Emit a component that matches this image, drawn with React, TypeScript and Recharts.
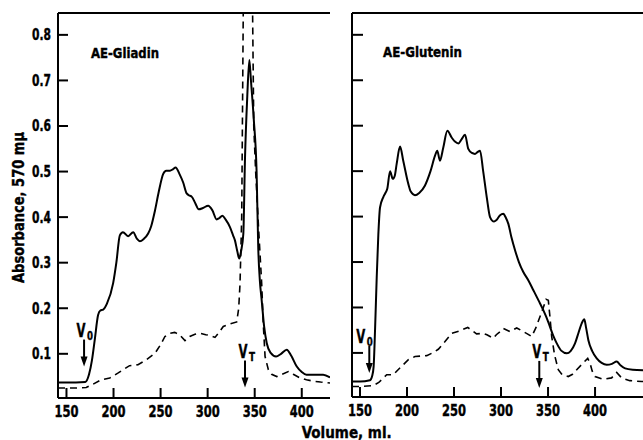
import React from 'react';
import { LineChart, Line, XAxis, YAxis, ReferenceDot } from 'recharts';

const FONT = '"Liberation Sans Narrow", "DejaVu Sans Condensed", "Liberation Sans", sans-serif';

// AE-Gliadin, solid trace (volume ml / absorbance)
const gliadinVol = [
  141, 150, 160, 170, 174, 177, 180, 183.6, 186, 189, 193, 199.6, 203, 206.7, 210, 215.5, 220.9, 225, 228, 232,
  236.8, 240, 244, 248, 252.8, 256, 260, 263, 266, 270, 274, 277.7, 281, 283, 287, 290.5, 295, 300.6, 305, 309.6,
  312.5, 315.6, 319, 323.7, 327, 329, 331.5, 333.6, 335.5, 337.9, 339.7, 342, 344.3, 346, 349, 352, 353.8, 355.5,
  357.4, 360, 362.8, 367, 372.7, 378, 384, 389, 394.7, 400, 405, 415, 422.7, 430,
];
const gliadinAbs = [
  0.037, 0.037, 0.037, 0.038, 0.055, 0.085, 0.13, 0.185, 0.195, 0.197, 0.21, 0.255, 0.3, 0.36, 0.367, 0.358, 0.367,
  0.352, 0.347, 0.352, 0.364, 0.38, 0.414, 0.455, 0.495, 0.502, 0.502, 0.505, 0.509, 0.495, 0.476, 0.452, 0.447,
  0.445, 0.43, 0.417, 0.42, 0.425, 0.415, 0.395, 0.398, 0.403, 0.395, 0.378, 0.36, 0.349, 0.325, 0.309, 0.325,
  0.363, 0.53, 0.66, 0.745, 0.7, 0.615, 0.5, 0.33, 0.26, 0.218, 0.16, 0.123, 0.102, 0.094, 0.1, 0.109, 0.095,
  0.072, 0.06, 0.054, 0.054, 0.054, 0.048,
];

// AE-Gliadin, dashed trace (peak runs off the top of the frame)
const gliadinDashVol = [
  141, 150, 160, 171, 178, 187, 196, 205, 217, 226, 235, 244, 250, 254.6, 260, 265, 270, 275.9, 281, 286.5, 291.8,
  298, 303, 307.8, 312, 316.6, 323, 330.9, 333, 334.4, 336.2, 342, 349, 351, 354, 357.4, 359, 361, 364.5, 368,
  373.4, 379, 385.7, 391, 398, 405, 412, 420, 430,
];
const gliadinDashAbs = [
  0.025, 0.025, 0.025, 0.026, 0.033, 0.043, 0.047, 0.058, 0.074, 0.076, 0.087, 0.101, 0.12, 0.138, 0.145, 0.147,
  0.142, 0.129, 0.138, 0.143, 0.145, 0.142, 0.14, 0.136, 0.147, 0.16, 0.165, 0.17, 0.2, 0.254, 0.4, 2.0, 0.6, 0.5,
  0.38, 0.255, 0.17, 0.094, 0.065, 0.055, 0.05, 0.055, 0.061, 0.055, 0.047, 0.043, 0.04, 0.038, 0.036,
];

// AE-Glutenin, solid trace
const gluteninVol = [
  141.5, 150, 160.6, 163, 164.5, 166, 167.8, 169.5, 171.3, 174.8, 177, 179, 182, 184.8, 187, 189, 192.6, 196, 201.4,
  204, 208.5, 213, 219, 225, 229.8, 232.2, 235, 238.6, 242.9, 247.5, 251, 254.6, 258, 261.7, 265.2, 269, 272.3, 275,
  277.7, 281, 285, 288.3, 292.6, 295, 299, 302.5, 305, 307.8, 311, 314.9, 319, 323.7, 329, 334.4, 340, 345, 348,
  352, 355.5, 359.3, 364, 370, 374, 378.7, 382.5, 385.8, 388.6, 390.5, 392.9, 397, 401.8, 407, 412.4, 418, 423,
  427, 432, 440, 451,
];
const gluteninAbs = [
  0.037, 0.037, 0.04, 0.05, 0.07, 0.15, 0.267, 0.36, 0.42, 0.443, 0.452, 0.461, 0.5, 0.483, 0.49, 0.516, 0.554,
  0.523, 0.472, 0.455, 0.447, 0.452, 0.468, 0.5, 0.534, 0.545, 0.523, 0.552, 0.589, 0.574, 0.565, 0.561, 0.57,
  0.58, 0.549, 0.54, 0.538, 0.542, 0.545, 0.5, 0.44, 0.399, 0.389, 0.392, 0.403, 0.406, 0.398, 0.384, 0.355, 0.326,
  0.3, 0.278, 0.26, 0.238, 0.215, 0.194, 0.18, 0.158, 0.138, 0.121, 0.105, 0.099, 0.104, 0.121, 0.145, 0.165,
  0.174, 0.155, 0.128, 0.104, 0.088, 0.078, 0.074, 0.076, 0.081, 0.073, 0.066, 0.063, 0.062,
];

// AE-Glutenin, dashed trace
const gluteninDashVol = [
  141.5, 150, 164, 170, 178.4, 185.4, 193, 201.4, 208.5, 221, 227, 233.3, 240, 247.5, 255, 264.6, 274, 281, 285,
  291.8, 295, 299, 302.5, 309.6, 316.7, 323.7, 328, 332.6, 337, 341.5, 345, 347.9, 350.3, 352, 353.9, 357, 360.9,
  365, 371.5, 376, 380.5, 386, 392.2, 394.7, 397, 400, 408.8, 417.6, 423, 428.3, 437, 449.7, 451,
];
const gluteninDashAbs = [
  0.026, 0.026, 0.028, 0.035, 0.052, 0.052, 0.068, 0.085, 0.092, 0.094, 0.1, 0.108, 0.124, 0.143, 0.148, 0.156,
  0.142, 0.143, 0.14, 0.132, 0.14, 0.147, 0.154, 0.147, 0.155, 0.147, 0.142, 0.136, 0.155, 0.18, 0.2, 0.218,
  0.216, 0.18, 0.136, 0.095, 0.063, 0.052, 0.048, 0.053, 0.063, 0.075, 0.088, 0.077, 0.06, 0.048, 0.042, 0.045,
  0.057, 0.045, 0.039, 0.037, 0.037,
];

// V0 / VT arrow tips
const gliadinMarkers = [
  { vol: 168.7, abs: 0.072, sub: '0' },
  { vol: 339.7, abs: 0.026, sub: 'T' },
];
const gluteninMarkers = [
  { vol: 159.9, abs: 0.056, sub: '0' },
  { vol: 340.7, abs: 0.023, sub: 'T' },
];
// how far the "V" label sits left of its arrow (the glutenin V0 is pushed left, clear of the curve)
const gliadinLabelShift = [7.5, 6.5];
const gluteninLabelShift = [13, 7];

const xTicks = [150, 200, 250, 300, 350, 400];
const yTicks = [0.1, 0.2, 0.3, 0.4, 0.5, 0.6, 0.7, 0.8];
const yDomain = [0.003, 0.848];

const zip = (xs: number[], ys: number[]) => xs.map((v, i) => ({ vol: v, abs: ys[i] }));

// squeezed, slightly thickened bold text, to imitate the heavy condensed typeface of the original
const Narrow = ({ x, y, len, size, anchor = 'start', children, ...rest }: any) => (
  <text
    x={x}
    y={y}
    textAnchor={anchor}
    fontFamily={FONT}
    fontWeight="bold"
    fontSize={size}
    fill="#000"
    stroke="#000"
    strokeWidth={0.4}
    textLength={len}
    lengthAdjust="spacingAndGlyphs"
    {...rest}
  >
    {children}
  </text>
);

const XTick = (p: any) => (
  <g>
    <line x1={p.x} x2={p.x} y1={p.y} y2={p.y - 10} stroke="#000" strokeWidth={2} />
    <Narrow x={p.x} y={p.y + 19} len={24} size={16} anchor="middle">
      {p.payload.value}
    </Narrow>
  </g>
);

const YTickLabelled = (p: any) => (
  <g>
    <line x1={p.x} x2={p.x + 10} y1={p.y} y2={p.y} stroke="#000" strokeWidth={2} />
    <Narrow x={p.x - 7} y={p.y + 5.5} len={19} size={16} anchor="end">
      {Number(p.payload.value).toFixed(1)}
    </Narrow>
  </g>
);

const YTickBare = (p: any) => (
  <line x1={p.x} x2={p.x + 11} y1={p.y} y2={p.y} stroke="#000" strokeWidth={2} />
);

const arrowShape = (sub: string, shift: number) => (p: any) => {
  const { cx, cy } = p;
  return (
    <g>
      <line x1={cx} x2={cx} y1={cy - 27} y2={cy - 7} stroke="#000" strokeWidth={2} />
      <path d={`M${cx - 3.5},${cy - 10} L${cx + 3.5},${cy - 10} L${cx},${cy} Z`} fill="#000" />
      <text x={cx - shift} y={cy - 30} fontFamily={FONT} fontWeight="bold" fill="#000" stroke="#000" strokeWidth={0.4}>
        <tspan fontSize={19} textLength={9} lengthAdjust="spacingAndGlyphs">V</tspan>
        <tspan fontSize={13} dy={3} dx={1.5} textLength={6} lengthAdjust="spacingAndGlyphs">{sub}</tspan>
      </text>
    </g>
  );
};

interface PanelProps {
  left: number;
  width: number;
  yAxisWidth: number;
  bottom: number;
  domain: [number, number];
  solid: { vol: number; abs: number }[];
  dashed: { vol: number; abs: number }[];
  markers: { vol: number; abs: number; sub: string }[];
  shifts: number[];
  labelled: boolean;
  closed: boolean;
}

function Panel({ left, width, yAxisWidth, bottom, domain, solid, dashed, markers, shifts, labelled, closed }: PanelProps) {
  const frame = { stroke: '#000', strokeWidth: 2 };
  return (
    <div style={{ position: 'absolute', left, top: 0 }}>
      <LineChart width={width} height={440} margin={{ top: 12, right: closed ? 1 : 0, left: 0, bottom }}>
        <XAxis
          dataKey="vol"
          type="number"
          domain={domain}
          allowDataOverflow
          ticks={xTicks}
          tickSize={0}
          tickMargin={0}
          tick={XTick}
          axisLine={frame}
          height={30}
        />
        <XAxis xAxisId="top" orientation="top" type="number" domain={domain} tick={false} tickLine={false} axisLine={frame} height={1} />
        <YAxis
          type="number"
          domain={yDomain}
          allowDataOverflow
          ticks={yTicks}
          tickSize={0}
          tickMargin={0}
          tick={labelled ? YTickLabelled : YTickBare}
          axisLine={frame}
          width={yAxisWidth}
        />
        {closed && (
          <YAxis yAxisId="right" orientation="right" type="number" domain={yDomain} tick={false} tickLine={false} axisLine={frame} width={0} />
        )}
        <Line data={dashed} dataKey="abs" type="linear" stroke="#000" strokeWidth={1.6} strokeDasharray="7 5" dot={false} isAnimationActive={false} />
        <Line data={solid} dataKey="abs" type="monotone" stroke="#000" strokeWidth={2} dot={false} isAnimationActive={false} />
        {markers.map((m, i) => (
          <ReferenceDot key={i} x={m.vol} y={m.abs} r={0} ifOverflow="visible" shape={arrowShape(m.sub, shifts[i])} />
        ))}
      </LineChart>
    </div>
  );
}

export default function App() {
  return (
    <div style={{ position: 'absolute', left: 0, top: 0, width: 643, height: 440, background: '#fff', overflow: 'hidden' }}>
      <Panel
        left={0}
        width={331}
        yAxisWidth={58}
        bottom={12}
        domain={[141, 430]}
        solid={zip(gliadinVol, gliadinAbs)}
        dashed={zip(gliadinDashVol, gliadinDashAbs)}
        markers={gliadinMarkers}
        shifts={gliadinLabelShift}
        labelled
        closed
      />
      <Panel
        left={331}
        width={312}
        yAxisWidth={21}
        bottom={13}
        domain={[141.5, 451]}
        solid={zip(gluteninVol, gluteninAbs)}
        dashed={zip(gluteninDashVol, gluteninDashAbs)}
        markers={gluteninMarkers}
        shifts={gluteninLabelShift}
        labelled={false}
        closed={false}
      />
      <svg width={643} height={440} style={{ position: 'absolute', left: 0, top: 0, pointerEvents: 'none' }}>
        <Narrow x={91} y={57.5} len={68} size={14.5}>AE-Gliadin</Narrow>
        <Narrow x={383} y={57} len={79} size={14.5}>AE-Glutenin</Narrow>
        <Narrow x={24} y={207.5} len={151} size={16.5} anchor="middle" transform="rotate(-90 24 207.5)">
          Absorbance, 570 mμ
        </Narrow>
        <Narrow x={346.7} y={437.5} len={90} size={16.5} anchor="middle">Volume, ml.</Narrow>
      </svg>
    </div>
  );
}
